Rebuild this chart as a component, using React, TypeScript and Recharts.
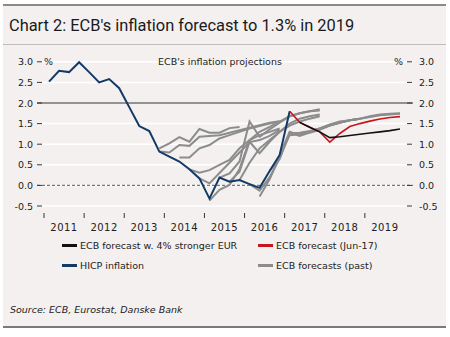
import { LineChart, Line, XAxis, YAxis, CartesianGrid, ReferenceLine } from "recharts";

const firstYear = 2011;
const quarterCount = 36; // 2011Q1 .. 2019Q4
const yearTicks = [2011, 2012, 2013, 2014, 2015, 2016, 2017, 2018, 2019];
const valueTicks = [-0.5, 0, 0.5, 1, 1.5, 2, 2.5, 3];

// HICP inflation, % y/y, quarterly from 2011Q1
const hicp = [
  2.52, 2.78, 2.75, 2.99, 2.75, 2.5, 2.58, 2.36, 1.9, 1.44, 1.32, 0.82, 0.7, 0.58, 0.39, 0.17,
  -0.32, 0.19, 0.09, 0.13, 0.03, -0.06, 0.35, 0.74, 1.8,
];

// ECB forecast (Jun-17), from 2017Q1
const jun17Start = 24;
const jun17 = [1.8, 1.53, 1.41, 1.3, 1.05, 1.26, 1.43, 1.5, 1.56, 1.61, 1.65, 1.67];

// ECB forecast w. 4% stronger EUR, from 2017Q2
const eurStart = 25;
const eur4 = [1.53, 1.41, 1.3, 1.16, 1.18, 1.21, 1.24, 1.27, 1.3, 1.33, 1.37];

// past ECB staff projections (start = quarter index from 2011Q1)
const dec13 = [0.9, 1.02, 1.17, 1.06, 1.37, 1.28, 1.28, 1.39, 1.42];
const mar14 = [0.82, 0.8, 0.98, 0.96, 1.18, 1.2, 1.22, 1.28, 1.34, 1.4, 1.46, 1.52, 1.56];
const jun14 = [0.68, 0.68, 0.9, 0.98, 1.14, 1.22, 1.3, 1.38, 1.44, 1.5, 1.55];
const sep14 = [0.39, 0.31, 0.37, 0.5, 0.62, 0.9, 1.1, 1.22, 1.3, 1.38];
const dec14 = [0.17, 0.05, 0.3, 0.55, 0.8, 1.05, 1.1, 1.2, 1.35];
const mar15 = [-0.37, -0.11, 0.01, 0.4, 1.1, 1.3, 1.42, 1.55, 1.68, 1.75, 1.8, 1.82];
const jun15 = [0.19, 0.29, 0.58, 1.55, 1.18, 1.36, 1.52, 1.68, 1.75, 1.8, 1.85];
const sep15 = [0.09, 0.33, 1.06, 0.78, 1.06, 1.3, 1.5, 1.62, 1.68, 1.72];
const dec15 = [0.13, 0.55, 0.9, 1.1, 1.3, 1.45, 1.55, 1.62, 1.68];
const mar16 = [0.03, -0.13, 0.2, 0.65, 1.26, 1.28, 1.32, 1.38, 1.45, 1.52, 1.58, 1.62];
const jun16 = [-0.27, 0.15, 0.7, 1.22, 1.24, 1.3, 1.38, 1.46, 1.53, 1.58, 1.62];
const sep16 = [0.35, 0.65, 1.28, 1.2, 1.28, 1.35, 1.45, 1.52, 1.58, 1.62, 1.66, 1.7, 1.72, 1.74];
const dec16 = [0.74, 1.3, 1.22, 1.3, 1.38, 1.48, 1.55, 1.58, 1.62, 1.68, 1.72, 1.74, 1.75];

const pastForecasts = [
  { key: "dec13", start: 11, values: dec13 },
  { key: "mar14", start: 11, values: mar14 },
  { key: "jun14", start: 13, values: jun14 },
  { key: "sep14", start: 14, values: sep14 },
  { key: "dec14", start: 15, values: dec14 },
  { key: "mar15", start: 16, values: mar15 },
  { key: "jun15", start: 17, values: jun15 },
  { key: "sep15", start: 18, values: sep15 },
  { key: "dec15", start: 19, values: dec15 },
  { key: "mar16", start: 20, values: mar16 },
  { key: "jun16", start: 21, values: jun16 },
  { key: "sep16", start: 22, values: sep16 },
  { key: "dec16", start: 23, values: dec16 },
];

const pick = (arr: number[], start: number, i: number) =>
  i >= start && i - start < arr.length ? arr[i - start] : null;

const rows = Array.from({ length: quarterCount }, (_, i) => {
  const row: Record<string, number | null> = { t: firstYear + (i + 0.5) / 4 };
  row.hicp = pick(hicp, 0, i);
  row.jun17 = pick(jun17, jun17Start, i);
  row.eur4 = pick(eur4, eurStart, i);
  pastForecasts.forEach((f) => {
    row[f.key] = pick(f.values, f.start, i);
  });
  return row;
});

const FONT = "'DejaVu Sans', sans-serif";
const TXT = "#222";

const ValueTick = (props: any) => {
  const { y, payload } = props;
  const v = payload.value as number;
  return (
    <g fontFamily={FONT} fontSize={9.5} fill={TXT}>
      <text x={33} y={y} dy={3.5} textAnchor="end">{v.toFixed(1)}</text>
      <line x1={37} x2={42} y1={y} y2={y} stroke="#333" />
      {v === 3 && <text x={44} y={y} dy={3.5}>%</text>}
      {v === 3 && <text x={403} y={y} dy={3.5} textAnchor="end">%</text>}
      <line x1={407} x2={412} y1={y} y2={y} stroke="#333" />
      <text x={419} y={y} dy={3.5}>{v.toFixed(1)}</text>
    </g>
  );
};

const YearTick = (props: any) => {
  const { x, payload } = props;
  return (
    <g>
      <line x1={x} x2={x} y1={213} y2={218} stroke="#333" />
      <text x={x + 20} y={230.5} textAnchor="middle" fontFamily={FONT} fontSize={10} fill={TXT} letterSpacing={0.5}>
        {payload.value}
      </text>
    </g>
  );
};

const legendItems = [
  { label: "ECB forecast w. 4% stronger EUR", color: "#111", left: 62, top: 245 },
  { label: "ECB forecast (Jun-17)", color: "#c8161d", left: 258, top: 245 },
  { label: "HICP inflation", color: "#123a66", left: 62, top: 265 },
  { label: "ECB forecasts (past)", color: "#8c8c8c", left: 258, top: 265 },
];

export default function App() {
  return (
    <div style={{ position: "absolute", left: 0, top: 0, width: 450, height: 337, background: "#fff", overflow: "hidden" }}>
      <div style={{ position: "absolute", left: 3, top: 5, width: 443, height: 322, background: "#f4f0f0" }} />
      <div style={{ position: "absolute", left: 3, top: 4, width: 443, height: 2, background: "#8a8a8a" }} />
      <div style={{ position: "absolute", left: 3, top: 44, width: 443, height: 1, background: "#bdbdbd" }} />
      <div style={{ position: "absolute", left: 3, top: 326, width: 443, height: 2, background: "#7a7a7a" }} />
      <div
        style={{
          position: "absolute", left: 9, top: 16, fontFamily: "Roboto, sans-serif", fontSize: 16.4,
          color: "#1a1a1a", whiteSpace: "nowrap", lineHeight: "20px",
        }}
      >
        Chart 2: ECB's inflation forecast to 1.3% in 2019
      </div>
      <div style={{ position: "absolute", left: 0, top: 0 }}>
        <LineChart width={450} height={337} data={rows} margin={{ top: 61.8, right: 37, bottom: 111, left: 0 }}>
          <CartesianGrid horizontal vertical={false} stroke="#ffffff" strokeWidth={1.5} />
          <XAxis
            dataKey="t" type="number" domain={[2010.825, 2020.2]} ticks={yearTicks}
            axisLine={false} tickLine={false} height={20} tick={<YearTick />} interval={0}
          />
          <YAxis
            type="number" domain={[-0.5, 3]} ticks={valueTicks} width={37}
            axisLine={false} tickLine={false} tick={<ValueTick />} interval={0}
          />
          <ReferenceLine y={2} stroke="#2a2a2a" strokeWidth={1} />
          <ReferenceLine y={0} stroke="#777" strokeWidth={1.2} strokeDasharray="3 2" />
          {pastForecasts.map((f) => (
            <Line key={f.key} dataKey={f.key} type="linear" stroke="#8c8c8c" strokeWidth={2}
              dot={false} activeDot={false} isAnimationActive={false} />
          ))}
          <Line dataKey="hicp" type="linear" stroke="#123a66" strokeWidth={2} dot={false} isAnimationActive={false} />
          <Line dataKey="jun17" type="linear" stroke="#c8161d" strokeWidth={1.6} dot={false} isAnimationActive={false} />
          <Line dataKey="eur4" type="linear" stroke="#111" strokeWidth={1.6} dot={false} isAnimationActive={false} />
        </LineChart>
      </div>
      <div
        style={{
          position: "absolute", left: 0, width: 440, top: 55, textAlign: "center", fontFamily: FONT,
          fontSize: 9.5, color: TXT, lineHeight: "14px",
        }}
      >
        ECB's inflation projections
      </div>
      {legendItems.map((it) => (
        <div key={it.label} style={{ position: "absolute", left: it.left, top: it.top - 7, height: 14, display: "flex", alignItems: "center", fontFamily: FONT, fontSize: 9.5, color: TXT, whiteSpace: "nowrap" }}>
          <span style={{ display: "inline-block", width: 15, height: 3, background: it.color, marginRight: 3 }} />
          {it.label}
        </div>
      ))}
      <div style={{ position: "absolute", left: 10, top: 303, fontFamily: FONT, fontSize: 9.5, fontStyle: "italic", color: TXT, lineHeight: "14px" }}>
        Source: ECB, Eurostat, Danske Bank
      </div>
    </div>
  );
}
